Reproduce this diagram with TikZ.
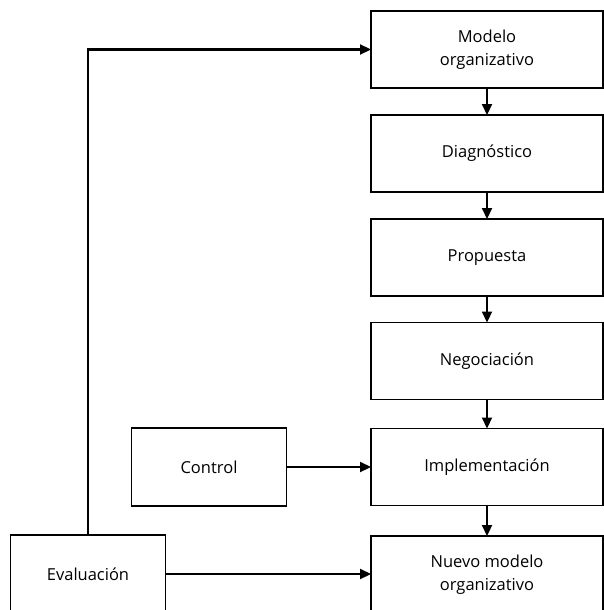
\documentclass[tikz,border=0pt]{standalone}
\usepackage{fontspec}
\setmainfont{Open Sans}
\usetikzlibrary{arrows.meta, positioning}
\def\colW{232pt}
\def\boxH{77pt}

\begin{document}
\begin{tikzpicture}[
    x=1pt, y=-1pt,
    >={Triangle[length=11pt,width=10pt]},
    stagebox/.style={draw, line width=1.5pt, minimum width=\colW, minimum height=\boxH,
        inner sep=2pt, outer sep=0pt, align=center,
        font=\fontsize{16.5}{23}\selectfont},
    sidebox/.style={stagebox, minimum width=155pt, minimum height=78pt},
    flow/.style={->, line width=2.2pt}
]
\useasboundingbox (0,0) rectangle (603,610);
% main column
\node[stagebox] (modelo) at (487,49.5) {Modelo\\organizativo};
\node[stagebox] (diag) at (487,153.5) {Diagnóstico};
\node[stagebox] (prop) at (487,257.5) {Propuesta};
\node[stagebox] (nego) at (487,361) {Negociación};
\node[stagebox] (impl) at (487,467) {Implementación};
\node[stagebox] (nuevo) at (487,574.5) {Nuevo modelo\\organizativo};
% side boxes
\node[sidebox] (control) at (209,467) {Control};
\node[sidebox] (eval) at (88,574) {Evaluación};

\draw[flow] (modelo) -- (diag);
\draw[flow] (diag) -- (prop);
\draw[flow] (prop) -- (nego);
\draw[flow] (nego) -- (impl);
\draw[flow] (impl) -- (nuevo);
\draw[flow] (control) -- (impl);
\draw[flow] (eval.east) -- (eval.east -| nuevo.west);
\draw[flow] (eval.north) |- (modelo.west);
\end{tikzpicture}
\end{document}
